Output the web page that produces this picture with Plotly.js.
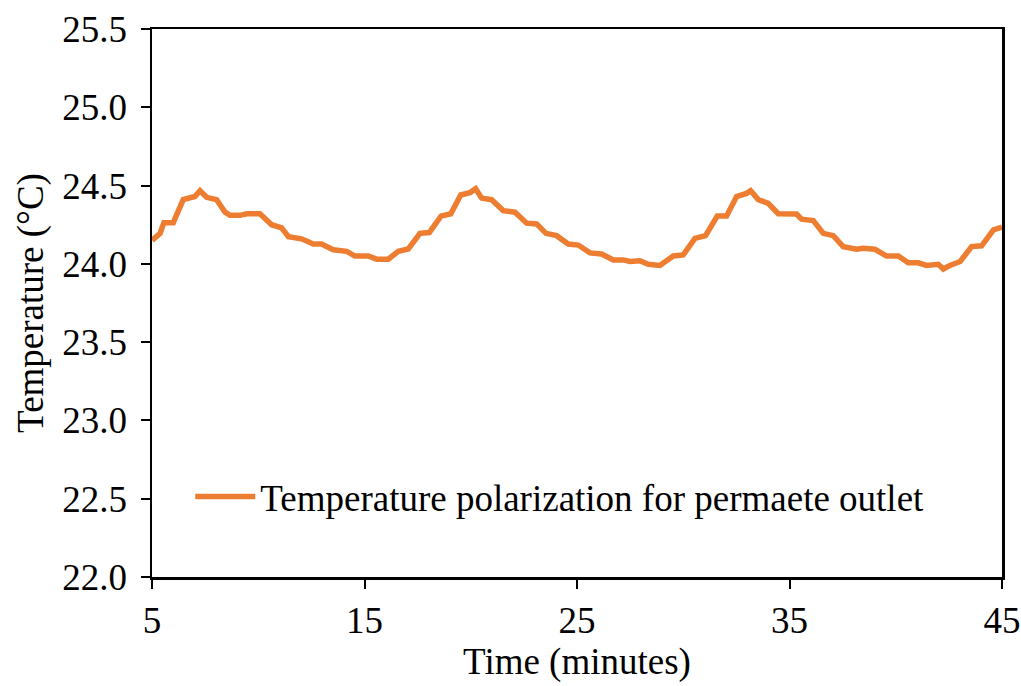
<!DOCTYPE html>
<html>
<head>
<meta charset="utf-8">
<script src="https://cdn.plot.ly/plotly-3.0.1.min.js"></script>
<style>html,body{margin:0;padding:0;background:#fff;}#chart{width:1021px;height:686px;}</style>
</head>
<body>
<div id="chart"></div>
<script>
const seriesName = "Temperature polarization for permaete outlet";
const timeMin = [5.0,5.38,5.56,6.0,6.47,7.02,7.26,7.57,8.04,8.44,8.67,9.14,9.46,10.08,10.63,11.1,11.42,12.04,12.59,12.98,13.53,14.16,14.55,15.18,15.57,16.12,16.59,17.06,17.61,18.05,18.6,19.06,19.53,19.96,20.23,20.51,20.98,21.53,22.08,22.63,23.1,23.54,24.04,24.59,25.06,25.61,26.16,26.71,27.18,27.49,27.96,28.35,28.9,29.53,30.0,30.55,31.05,31.6,32.04,32.51,32.98,33.17,33.53,34.0,34.47,35.02,35.33,35.57,36.12,36.59,37.06,37.53,38.16,38.47,39.02,39.57,40.12,40.59,41.06,41.45,42.0,42.24,42.55,43.03,43.57,44.04,44.6,45.0];
const tempC = [24.15,24.195,24.263,24.263,24.41,24.43,24.467,24.425,24.41,24.33,24.31,24.31,24.32,24.32,24.25,24.23,24.174,24.16,24.127,24.127,24.09,24.08,24.05,24.05,24.03,24.03,24.08,24.095,24.195,24.2,24.305,24.32,24.44,24.455,24.48,24.42,24.41,24.34,24.33,24.26,24.255,24.195,24.18,24.127,24.12,24.07,24.063,24.025,24.025,24.015,24.02,23.997,23.99,24.05,24.057,24.163,24.18,24.305,24.306,24.43,24.45,24.467,24.41,24.387,24.32,24.318,24.318,24.285,24.276,24.195,24.18,24.11,24.093,24.1,24.093,24.05,24.05,24.007,24.007,23.99,23.997,23.967,23.99,24.015,24.11,24.115,24.217,24.235];
const xTicks = [5,15,25,35,45];
const yTicks = [22.0,22.5,23.0,23.5,24.0,24.5,25.0,25.5];

const font = {family: "Liberation Serif, Times New Roman, serif", size: 37, color: "#000"};
Plotly.newPlot("chart", [{
  x: timeMin, y: tempC, type: "scatter", mode: "lines", name: seriesName,
  line: {color: "#ED7D31", width: 5.5}
}], {
  width: 1021, height: 686,
  margin: {l: 152, r: 19, t: 29, b: 109},
  paper_bgcolor: "#fff", plot_bgcolor: "#fff",
  font: font,
  showlegend: true,
  legend: {x: 0.045, y: 0.146, xanchor: "left", yanchor: "middle", bgcolor: "rgba(0,0,0,0)", font: font, itemwidth: 60},
  xaxis: {
    range: [5, 45], tickvals: xTicks, ticktext: xTicks.map(String),
    showgrid: false, zeroline: false, showline: true, linecolor: "#000", linewidth: 2.5,
    mirror: true, ticks: "outside", ticklen: 9, tickwidth: 2, tickcolor: "#000",
    tickfont: font,
    title: {text: "Time (minutes)", font: font, standoff: 6}
  },
  yaxis: {
    range: [22, 25.5], tickvals: yTicks, ticktext: yTicks.map(v => v.toFixed(1)),
    showgrid: false, zeroline: false, showline: true, linecolor: "#000", linewidth: 2.5,
    mirror: true, ticks: "outside", ticklen: 9, tickwidth: 2, tickcolor: "#000",
    ticklabelstandoff: 6,
    tickfont: font,
    title: {text: "Temperature (°C)", font: font, standoff: 8}
  }
}, {displayModeBar: false, staticPlot: true});
</script>
</body>
</html>
